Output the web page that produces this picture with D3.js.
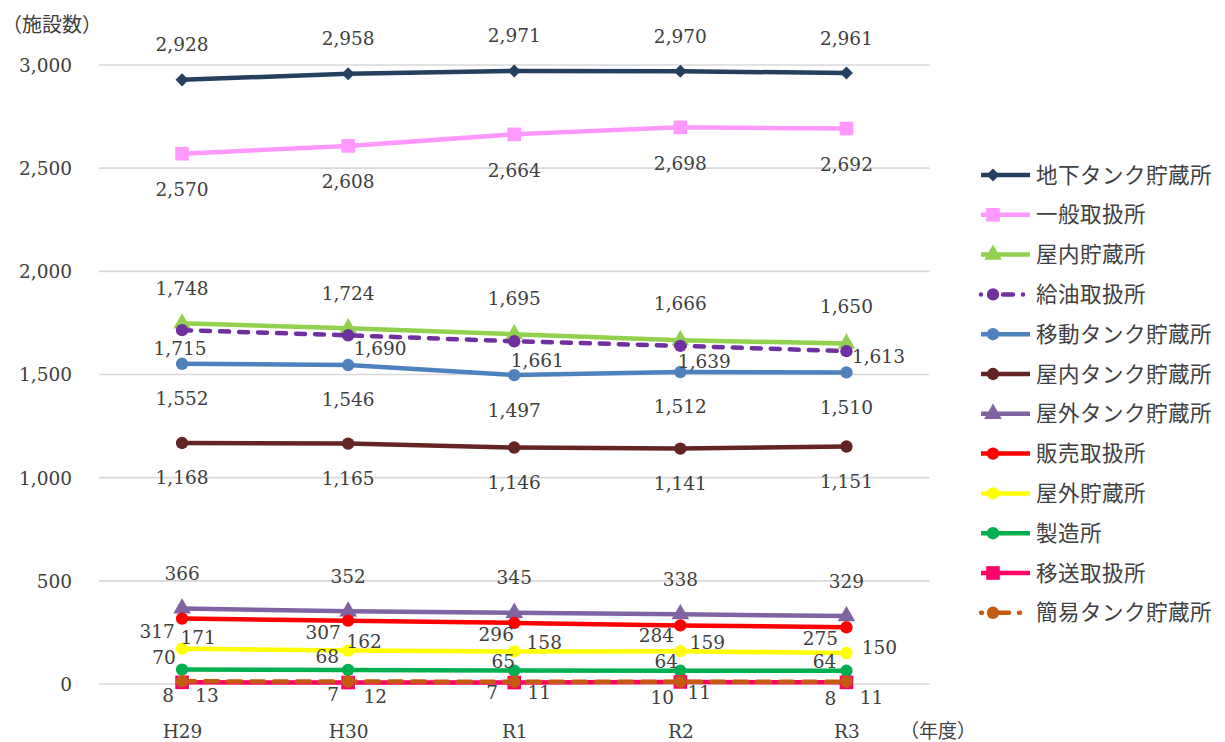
<!DOCTYPE html>
<html><head><meta charset="utf-8">
<script src="https://cdn.jsdelivr.net/npm/d3@7"></script>
<style>
html,body{margin:0;padding:0;background:#fff;}
</style></head>
<body>
<svg id="chart" width="1225" height="742"></svg>
<script>
// ---- data ----
const years = ["H29", "H30", "R1", "R2", "R3"];
const yTicks = [0, 500, 1000, 1500, 2000, 2500, 3000];
const seriesNames = ["地下タンク貯蔵所", "一般取扱所", "屋内貯蔵所", "給油取扱所", "移動タンク貯蔵所", "屋内タンク貯蔵所", "屋外タンク貯蔵所", "販売取扱所", "屋外貯蔵所", "製造所", "移送取扱所", "簡易タンク貯蔵所"];
const undergroundTank = [2928, 2958, 2971, 2970, 2961];
const generalHandling = [2570, 2608, 2664, 2698, 2692];
const indoorStorage = [1748, 1724, 1695, 1666, 1650];
const fuelHandling = [1715, 1690, 1661, 1639, 1613];
const mobileTank = [1552, 1546, 1497, 1512, 1510];
const indoorTank = [1168, 1165, 1146, 1141, 1151];
const outdoorTank = [366, 352, 345, 338, 329];
const salesHandling = [317, 307, 296, 284, 275];
const outdoorStorage = [171, 162, 158, 159, 150];
const manufacturing = [70, 68, 65, 64, 64];
const transferHandling = [8, 7, 7, 10, 8];
const simpleTank = [13, 12, 11, 11, 11];
const seriesValues = [undergroundTank, generalHandling, indoorStorage, fuelHandling, mobileTank, indoorTank, outdoorTank, salesHandling, outdoorStorage, manufacturing, transferHandling, simpleTank];

// ---- styles ----
const colors = ["#243F60", "#FF99FF", "#92D050", "#7030A0", "#4F81BD", "#632523", "#8064A2", "#FF0000", "#FFFF00", "#00B050", "#FF0066", "#C55A11"];
const shapes = ["diamond", "square", "triangle", "circle", "circle", "circle", "triangle", "circle", "circle", "circle", "square", "circle"];
const dashes = [null, null, null, "9,10", null, null, null, null, null, null, null, "13,10"];
// label offsets (dx, dy of label centre relative to the point)
const labelOffsets = [
  [[0,-35],[0,-35],[0,-35],[0,-35],[0,-35]],
  [[0,36],[0,36],[0,36],[0,36],[0,36]],
  [[0,-35],[0,-35],[0,-36],[0,-37],[0,-37]],
  [[-2,18],[32,13],[23,19],[24,16],[32,5]],
  [[0,35],[0,35],[0,35],[0,35],[0,35]],
  [[0,35],[0,35],[0,35],[0,35],[0,35]],
  [[0,-35],[0,-35],[0,-35],[0,-35],[0,-35]],
  [[-25,13],[-25,12],[-18,12],[-24,10],[-26,11]],
  [[16,-11],[16,-9],[30,-9],[27,-9],[33,-6]],
  [[-18,-12],[-21,-13],[-11,-9],[-14,-9],[-22,-9]],
  [[-14,13],[-15,12],[-22,10],[-18,16],[-16,16]],
  [[25,14],[27,15],[25,11],[19,11],[25,16]]
];

const svg = d3.select("#chart");
const numFont = "'DejaVu Serif', 'Liberation Serif', serif";
const jpFont = "'Noto Sans CJK JP', 'Noto Sans', sans-serif";
const textColor = "#404040";

const x = d3.scalePoint().domain(years).range([99, 929.5]).padding(0.5);
const y = d3.scaleLinear().domain([0, 3000]).range([684, 65]);

// gridlines
svg.append("g").selectAll("line").data(yTicks).join("line")
  .attr("x1", 99).attr("x2", 929.5)
  .attr("y1", d => y(d)).attr("y2", d => y(d))
  .attr("stroke", "#D9D9D9").attr("stroke-width", 1.6);

// y axis labels
const yAxis = d3.axisLeft(y).tickValues(yTicks).tickSize(0).tickPadding(0).tickFormat(d3.format(","));
const yg = svg.append("g").attr("transform", "translate(72,0)").call(yAxis);
yg.select(".domain").remove();
yg.selectAll("text").attr("font-family", numFont).attr("font-size", 18.5).attr("fill", textColor).attr("dy", "0.35em");

// x axis labels
const xAxis = d3.axisBottom(x).tickSize(0).tickPadding(0);
const xg = svg.append("g").attr("transform", "translate(0,732)").call(xAxis);
xg.select(".domain").remove();
xg.selectAll("text").attr("font-family", numFont).attr("font-size", 18.5).attr("fill", textColor).attr("dy", "0.35em");

// axis titles
svg.append("text").attr("x", 2).attr("y", 25).attr("dy", "0.35em")
  .attr("font-family", jpFont).attr("font-size", 20).attr("fill", textColor).text("（施設数）");
svg.append("text").attr("x", 900).attr("y", 738)
  .attr("font-family", jpFont).attr("font-size", 19).attr("fill", textColor).text("（年度）");

function symbolFor(shape) {
  if (shape === "square") return d3.symbol().type(d3.symbolSquare).size(185);
  if (shape === "triangle") return d3.symbol().type(d3.symbolTriangle).size(135);
  return d3.symbol().type(d3.symbolCircle).size(120);
}
function markerPath(shape) {
  if (shape === "diamond") return d3.symbol().type(d3.symbolSquare).size(85)();
  return symbolFor(shape)();
}

const line = d3.line().x((d, i) => x(years[i])).y(d => y(d));

seriesValues.forEach((vals, s) => {
  const g = svg.append("g");
  g.append("path").datum(vals).attr("d", line)
    .attr("fill", "none").attr("stroke", colors[s]).attr("stroke-width", 4.5)
    .attr("stroke-linecap", dashes[s] ? "round" : "butt")
    .attr("stroke-linejoin", "round")
    .attr("stroke-dasharray", dashes[s]);
  g.selectAll("path.m").data(vals).join("path").attr("class", "m")
    .attr("d", markerPath(shapes[s]))
    .attr("transform", (d, i) => `translate(${x(years[i])},${y(d)})` + (shapes[s] === "diamond" ? " rotate(45)" : ""))
    .attr("fill", colors[s]);
});

// data labels
seriesValues.forEach((vals, s) => {
  svg.append("g").selectAll("text").data(vals).join("text")
    .attr("x", (d, i) => x(years[i]) + labelOffsets[s][i][0])
    .attr("y", (d, i) => y(d) + labelOffsets[s][i][1])
    .attr("dy", "0.35em").attr("text-anchor", "middle")
    .attr("font-family", numFont).attr("font-size", 18.5).attr("fill", textColor)
    .text(d => d3.format(",")(d));
});

// legend
const lg = svg.append("g");
seriesNames.forEach((name, s) => {
  const ly = 175 + s * 39.8;
  lg.append("line").attr("x1", 981).attr("x2", 1030).attr("y1", ly).attr("y2", ly)
    .attr("stroke", colors[s]).attr("stroke-width", 4.5)
    .attr("stroke-linecap", dashes[s] ? "round" : "butt")
    .attr("stroke-dasharray", dashes[s] ? (s === 3 ? "0,22,10,10" : "0,0,1,14,13,10") : null);
  lg.append("path").attr("d", markerPath(shapes[s]))
    .attr("transform", `translate(993,${ly})` + (shapes[s] === "diamond" ? " rotate(45)" : ""))
    .attr("fill", colors[s]);
  lg.append("text").attr("x", 1036).attr("y", ly).attr("dy", "0.35em")
    .attr("font-family", jpFont).attr("font-size", 21.5).attr("letter-spacing", 0.5)
    .attr("fill", textColor).text(name);
});
</script>
</body></html>
